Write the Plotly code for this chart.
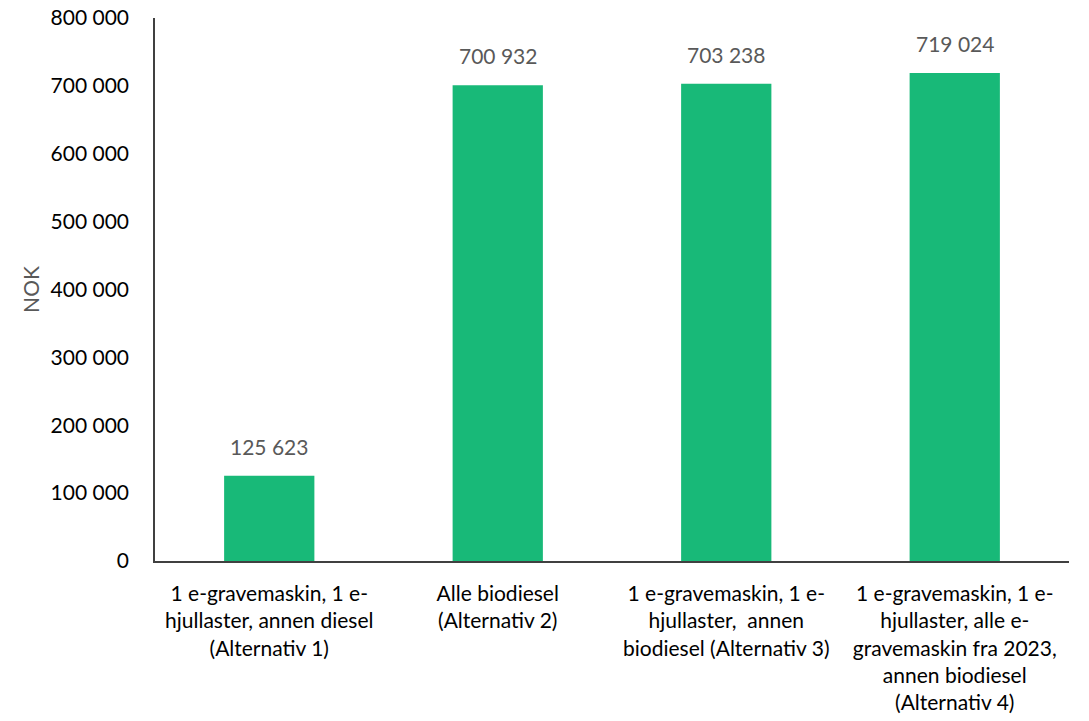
import plotly.graph_objects as go

categories = ["Alternativ 1", "Alternativ 2", "Alternativ 3", "Alternativ 4"]
values = [125623, 700932, 703238, 719024]
tick_labels = [
    "1 e-gravemaskin, 1 e-<br>hjullaster, annen diesel<br>(Alternativ 1)",
    "Alle biodiesel<br>(Alternativ 2)",
    "1 e-gravemaskin, 1 e-<br>hjullaster,  annen<br>biodiesel (Alternativ 3)",
    "1 e-gravemaskin, 1 e-<br>hjullaster, alle e-<br>gravemaskin fra 2023,<br>annen biodiesel<br>(Alternativ 4)",
]
y_ticks = [0, 100000, 200000, 300000, 400000, 500000, 600000, 700000, 800000]

FONT = "Lato, Open Sans, sans-serif"
FS = 21

fig = go.Figure()
fig.add_trace(go.Bar(
    x=categories, y=values, width=0.395,
    marker=dict(color="#18B978", line=dict(width=0)),
    hoverinfo="skip",
))
for c, v in zip(categories, values):
    fig.add_annotation(
        x=c, y=v, text=f"{v:,}".replace(",", " "), showarrow=False,
        yanchor="bottom", yshift=15,
        font=dict(family=FONT, size=FS, color="#595959"),
    )

fig.update_layout(
    width=1089, height=721,
    margin=dict(l=155, r=20, t=18, b=160),
    plot_bgcolor="white", paper_bgcolor="white",
    separators=", ",
    showlegend=False,
    bargap=0.6,
    font=dict(family=FONT, size=FS, color="#000000"),
)
fig.update_xaxes(
    tickvals=categories, ticktext=tick_labels,
    showline=True, linecolor="#404040", linewidth=1.5,
    ticks="", ticklabelstandoff=13, automargin=False,
    ticklabeloverflow="allow",
    tickfont=dict(family=FONT, size=FS, color="#000000"),
    showgrid=False, zeroline=False,
)
fig.update_yaxes(
    range=[0, 800000], tickvals=y_ticks, tickformat=",.0f",
    showline=True, linecolor="#404040", linewidth=1.5,
    ticks="", ticklabelstandoff=20, automargin=False,
    ticklabeloverflow="allow",
    tickfont=dict(family=FONT, size=FS, color="#000000"),
    showgrid=False, zeroline=False,
    title=dict(text="NOK", font=dict(family=FONT, size=FS, color="#595959"), standoff=5),
)

fig.write_html("out.html", config={"displayModeBar": False},
               post_script="document.body.style.margin='0px';")
